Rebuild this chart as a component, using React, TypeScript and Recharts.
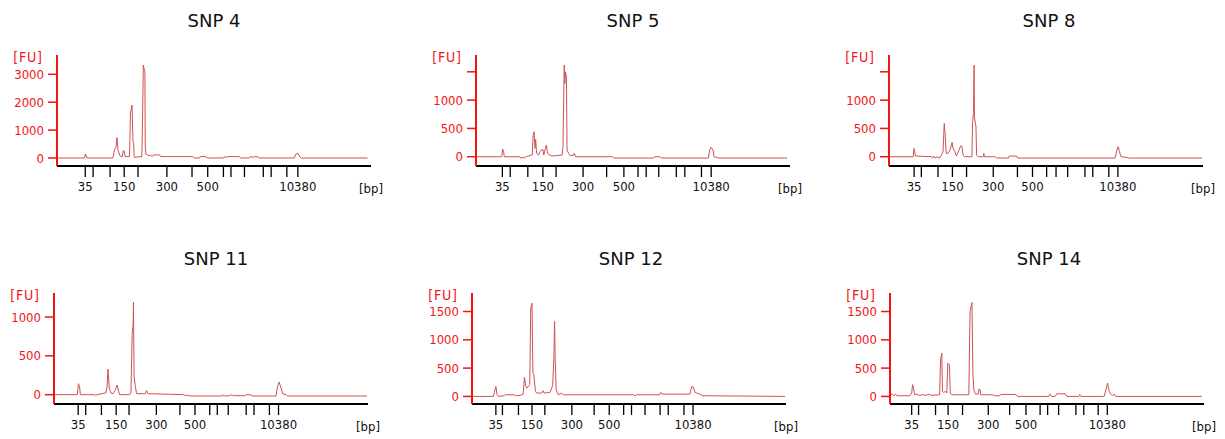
import { LineChart, Line, XAxis, YAxis } from 'recharts';

type Pt = [number, number];

// ladder fragment sizes (bp) and which ones carry a label
const LADDER_BP = [35, 50, 100, 150, 200, 300, 400, 500, 700, 1000, 1500, 2000, 3000, 7000, 10380];
const LABELLED_BP = [35, 150, 300, 500, 10380];

// traces: [migration time (0-100), fluorescence FU]
const snp4Trace: Pt[] = [
  [0, 0], [8.8, 0], [9.0, 143], [9.2, 130], [9.5, 0], [17.8, 0], [18.3, 290], [18.8, 400], [19.1, 730],
  [19.4, 290], [20.1, 70], [20.8, 50], [21.1, 275], [21.4, 250], [21.7, 50], [23.1, 50], [23.4, 1600],
  [23.9, 1900], [24.2, 585], [24.4, 525], [24.6, 25], [27.0, 50], [27.1, 430], [27.5, 3330], [27.7, 3215],
  [28.0, 3100], [28.1, 430], [28.3, 130], [28.8, 110], [29.3, 70], [29.7, 110], [30.3, 50], [30.7, 110],
  [32.7, 110], [33.0, 50], [43.3, 50], [43.7, 0], [45.4, 0], [45.6, 50], [47.5, 50], [47.8, 0], [53.0, 0],
  [53.3, 50], [53.9, 25], [54.4, 50], [58.1, 50], [58.4, 0], [61.3, 0], [61.6, 50], [62.6, 25], [62.9, 50],
  [63.9, 50], [64.2, 0], [75.6, 0], [76.1, 143], [76.7, 167], [77.2, 70], [77.7, 0], [98.9, 0],
];
const snp4Ladder = [9.0, 11.5, 16.9, 21.4, 25.8, 35.0, 43.0, 48.0, 53.0, 55.4, 59.7, 65.7, 68.2, 73.2, 76.7];
const snp4YTicks = [0, 1000, 2000, 3000];

const snp5Trace: Pt[] = [
  [0, 0], [8.2, 0], [8.5, 135], [8.8, 88], [9.0, 0], [13.9, 0], [14.1, -24], [15.0, -12], [15.4, -24],
  [16.0, 0], [17.9, 29], [18.2, 382], [18.5, 441], [18.8, 147], [19.0, 306], [19.3, 59], [19.9, 29],
  [20.4, 88], [20.8, 118], [21.3, 129], [21.6, 29], [22.1, 147], [22.4, 206], [22.8, 59], [23.5, 29],
  [24.2, 12], [27.4, 29], [27.7, 176], [28.1, 1617], [28.3, 1294], [28.5, 1500], [28.8, 1411], [29.0, 118],
  [29.5, 59], [30.1, 18], [31.1, 29], [31.3, 59], [31.7, 0], [43.4, 0], [43.9, -24], [56.6, -24], [56.9, 0],
  [58.6, 0], [59.0, -24], [74.0, -24], [74.4, 118], [74.9, 165], [75.5, 118], [75.8, 0], [76.6, -12],
  [77.4, -24], [99.1, -24],
];
const snp5Ladder = [8.4, 10.9, 16.5, 21.3, 25.5, 34.1, 41.6, 47.1, 51.6, 54.2, 58.2, 63.8, 66.5, 71.8, 74.9];
const snp5YTicks = [0, 500, 1000, 1500];
const snp5YLabels = [0, 500, 1000];

const snp8Trace: Pt[] = [
  [0, 0], [7.7, 0], [8.0, 147], [8.4, 12], [13.5, 0], [13.8, -24], [14.3, 12], [14.7, -24], [15.3, 0],
  [16.0, -24], [16.7, 29], [17.2, 88], [17.6, 588], [17.9, 382], [18.2, 59], [18.8, 59], [19.4, 118],
  [20.1, 253], [20.4, 147], [21.0, 88], [21.5, 12], [22.3, 118], [22.8, 188], [23.2, 188], [23.6, 29],
  [24.1, 0], [26.4, 0], [26.6, 588], [26.9, 776], [27.1, 1617], [27.2, 705], [27.7, 529], [27.9, 29],
  [28.4, 0], [30.0, 0], [30.2, 59], [30.4, 0], [33.7, 0], [34.3, -24], [38.0, -24], [38.3, 12], [40.6, 12],
  [41.0, -24], [72.0, -24], [72.6, 118], [73.0, 176], [73.4, 88], [73.9, 0], [75.7, -12], [76.3, -24],
  [99.7, -24],
];
const snp8Ladder = [8.0, 10.3, 15.6, 20.2, 24.7, 33.2, 40.9, 45.7, 50.2, 53.2, 56.9, 62.4, 64.9, 70.0, 72.9];
const snp8YTicks = [0, 500, 1000, 1500];
const snp8YLabels = [0, 500, 1000];

const snp11Trace: Pt[] = [
  [0, 0], [7.4, 0], [7.8, 142], [8.2, 86], [8.4, 0], [13.0, 0], [13.3, -13], [13.7, 0], [16.5, 22],
  [16.9, 99], [17.2, 331], [17.6, 86], [18.1, 22], [18.8, 13], [19.6, 65], [20.1, 125], [20.5, 56],
  [20.9, 0], [24.1, 0], [24.5, 22], [24.9, 774], [25.2, 903], [25.3, 1191], [25.5, 237], [25.9, 108],
  [26.3, 13], [29.1, 13], [29.5, 52], [29.9, 13], [41.2, 0], [41.7, -9], [42.8, -9], [43.3, -17],
  [53.4, -17], [53.7, 0], [54.1, -17], [56.1, -13], [56.6, 0], [57.1, -13], [60.9, -13], [61.2, 0],
  [62.7, 0], [63.0, -17], [70.7, -17], [71.2, 108], [71.7, 163], [72.2, 99], [72.9, 9], [73.9, 0],
  [74.4, -17], [99.7, -17],
];
const snp11Ladder = [7.7, 10.1, 15.1, 19.8, 23.9, 32.6, 40.1, 44.9, 49.6, 52.0, 55.5, 61.2, 63.7, 68.6, 71.5];
const snp11YTicks = [0, 500, 1000];

const snp12Trace: Pt[] = [
  [0, 0], [6.8, 0], [7.1, 71], [7.3, 118], [7.6, 176], [8.0, 29], [8.4, 0], [10.3, 12], [10.6, 29],
  [13.7, 29], [14.0, 12], [15.3, 18], [16.3, 41], [16.7, 341], [17.1, 176], [17.5, 147], [17.9, 176],
  [18.4, 206], [18.7, 1558], [19.1, 1646], [19.4, 412], [19.7, 382], [20.2, 88], [20.6, 59], [22.2, 59],
  [22.6, 100], [23.0, 59], [24.8, 71], [25.7, 188], [26.1, 735], [26.3, 1323], [26.5, 647], [26.8, 118],
  [27.5, 29], [28.6, 59], [29.1, 29], [51.4, 29], [51.9, 12], [52.4, 29], [59.7, 29], [60.1, 71],
  [60.5, 41], [69.4, 41], [70.0, 176], [70.5, 165], [71.0, 71], [72.6, 41], [73.5, 12], [99.7, 0],
];
const snp12Ladder = [7.6, 9.7, 14.8, 19.1, 23.2, 31.8, 38.9, 43.7, 48.3, 50.8, 55.1, 59.9, 62.5, 67.5, 70.4];
const snp12YTicks = [0, 500, 1000, 1500];

const snp14Trace: Pt[] = [
  [0, 29], [0.7, 41], [1.2, 12], [1.8, 41], [2.2, 12], [6.3, 12], [6.9, 59], [7.2, 206], [7.5, 147],
  [7.8, 29], [8.4, 41], [9.4, 18], [10.5, 29], [11.5, 18], [12.4, 41], [13.1, 18], [15.8, 29], [16.1, 647],
  [16.5, 764], [16.7, 88], [17.1, 71], [17.7, 88], [18.1, 59], [18.4, 588], [18.9, 559], [19.2, 59],
  [19.6, 29], [25.1, 29], [25.5, 1500], [26.1, 1658], [26.4, 412], [26.7, 118], [27.2, 41], [28.1, 41],
  [28.3, 129], [28.7, 118], [28.9, 29], [32.7, 29], [33.3, 12], [34.9, 12], [35.4, 35], [40.1, 35],
  [40.6, 0], [50.5, 0], [51.0, 41], [51.4, 0], [52.6, 0], [53.1, 47], [55.8, 47], [56.3, 0], [60.1, 0],
  [60.4, 35], [60.8, 0], [68.2, 0], [68.8, 129], [69.3, 235], [69.8, 88], [70.3, 41], [70.9, 12],
  [71.4, 41], [71.9, 0], [99.3, 0],
];
const snp14Ladder = [6.9, 9.1, 14.5, 18.5, 23.1, 31.3, 38.1, 43.3, 47.8, 50.2, 53.7, 59.2, 61.7, 66.3, 69.2];
const snp14YTicks = [0, 500, 1000, 1500];

// plot geometry
const AXIS_W = 60;
const PLOT_W = 314;
const PLOT_H = 111;
const TOP = 50;
const RIGHT = 26;
const X_AXIS_H = 39;
const FONT = '"DejaVu Sans", Verdana, sans-serif';
const TICK_FONT = '"DejaVu Sans Condensed", "DejaVu Sans", sans-serif';
const RED = '#f21414';

const panels = [
  { title: 'SNP 4', trace: snp4Trace, ladder: snp4Ladder, yTicks: snp4YTicks, yLabels: snp4YTicks, yDomain: [-287, 3692], x: 57.3, y: 55, titleX: 214, titleY: 27 },
  { title: 'SNP 5', trace: snp5Trace, ladder: snp5Ladder, yTicks: snp5YTicks, yLabels: snp5YLabels, yDomain: [-164, 1797], x: 475.7, y: 55, titleX: 633, titleY: 27 },
  { title: 'SNP 8', trace: snp8Trace, ladder: snp8Ladder, yTicks: snp8YTicks, yLabels: snp8YLabels, yDomain: [-164, 1797], x: 889.3, y: 55, titleX: 1049, titleY: 27 },
  { title: 'SNP 11', trace: snp11Trace, ladder: snp11Ladder, yTicks: snp11YTicks, yLabels: snp11YTicks, yDomain: [-120, 1309], x: 54.3, y: 293.3, titleX: 216, titleY: 265 },
  { title: 'SNP 12', trace: snp12Trace, ladder: snp12Ladder, yTicks: snp12YTicks, yLabels: snp12YTicks, yDomain: [-134, 1827], x: 472, y: 293.3, titleX: 631, titleY: 265 },
  { title: 'SNP 14', trace: snp14Trace, ladder: snp14Ladder, yTicks: snp14YTicks, yLabels: snp14YTicks, yDomain: [-134, 1827], x: 890.3, y: 293.3, titleX: 1049, titleY: 265 },
];

function FuTag(props: any) {
  const vb = props.viewBox || {};
  return (
    <text x={vb.x + vb.width - 29} y={vb.y + 7} textAnchor="middle" fill={RED} fontSize={14} letterSpacing={0.8} fontFamily={TICK_FONT}>
      [FU]
    </text>
  );
}

function BpTag(props: any) {
  const vb = props.viewBox || {};
  return (
    <text x={vb.x + vb.width} y={vb.y + 26.5} textAnchor="middle" fill="#111" fontSize={13} fontFamily={TICK_FONT}>
      [bp]
    </text>
  );
}

function Electropherogram({ p }: { p: (typeof panels)[number] }) {
  const data = p.trace.map(([t, fu]) => ({ t, fu }));
  return (
    <div style={{ position: 'absolute', left: p.x - AXIS_W, top: p.y - TOP }}>
      <LineChart
        width={AXIS_W + PLOT_W + RIGHT}
        height={TOP + PLOT_H + X_AXIS_H}
        data={data}
        margin={{ top: TOP, right: RIGHT, left: 0, bottom: 0 }}
      >
        <XAxis
          dataKey="t"
          type="number"
          domain={[0, 100]}
          allowDataOverflow
          ticks={p.ladder}
          interval={0}
          height={X_AXIS_H}
          tickSize={11}
          tickMargin={5}
          axisLine={{ stroke: '#000', strokeWidth: 2 }}
          tickLine={{ stroke: '#000', strokeWidth: 1.3 }}
          tick={{ fill: '#111', fontSize: 13, fontFamily: TICK_FONT }}
          tickFormatter={(v: number) => {
            const bp = LADDER_BP[p.ladder.indexOf(v)];
            return LABELLED_BP.includes(bp) ? String(bp) : '';
          }}
          label={<BpTag />}
        />
        <YAxis
          type="number"
          width={AXIS_W}
          domain={p.yDomain}
          allowDataOverflow
          ticks={p.yTicks}
          interval={0}
          tickSize={9}
          tickMargin={4}
          axisLine={{ stroke: RED, strokeWidth: 2 }}
          tickLine={{ stroke: RED, strokeWidth: 1.5 }}
          tick={{ fill: RED, fontSize: 13, fontFamily: TICK_FONT }}
          tickFormatter={(v: number) => (p.yLabels.includes(v) ? String(v) : '')}
          label={<FuTag />}
        />
        <Line type="linear" dataKey="fu" stroke="#cf5252" strokeWidth={1} dot={false} isAnimationActive={false} />
      </LineChart>
    </div>
  );
}

export default function App() {
  return (
    <div style={{ position: 'absolute', left: 0, top: 0, width: 1225, height: 439, background: '#fff', overflow: 'hidden' }}>
      {panels.map((p) => (
        <div key={p.title}>
          <div
            style={{
              position: 'absolute',
              left: p.titleX - 100,
              top: p.titleY - 15,
              width: 200,
              textAlign: 'center',
              fontFamily: FONT,
              fontSize: 18,
              lineHeight: '18px',
              color: '#111',
            }}
          >
            {p.title}
          </div>
          <Electropherogram p={p} />
        </div>
      ))}
    </div>
  );
}
